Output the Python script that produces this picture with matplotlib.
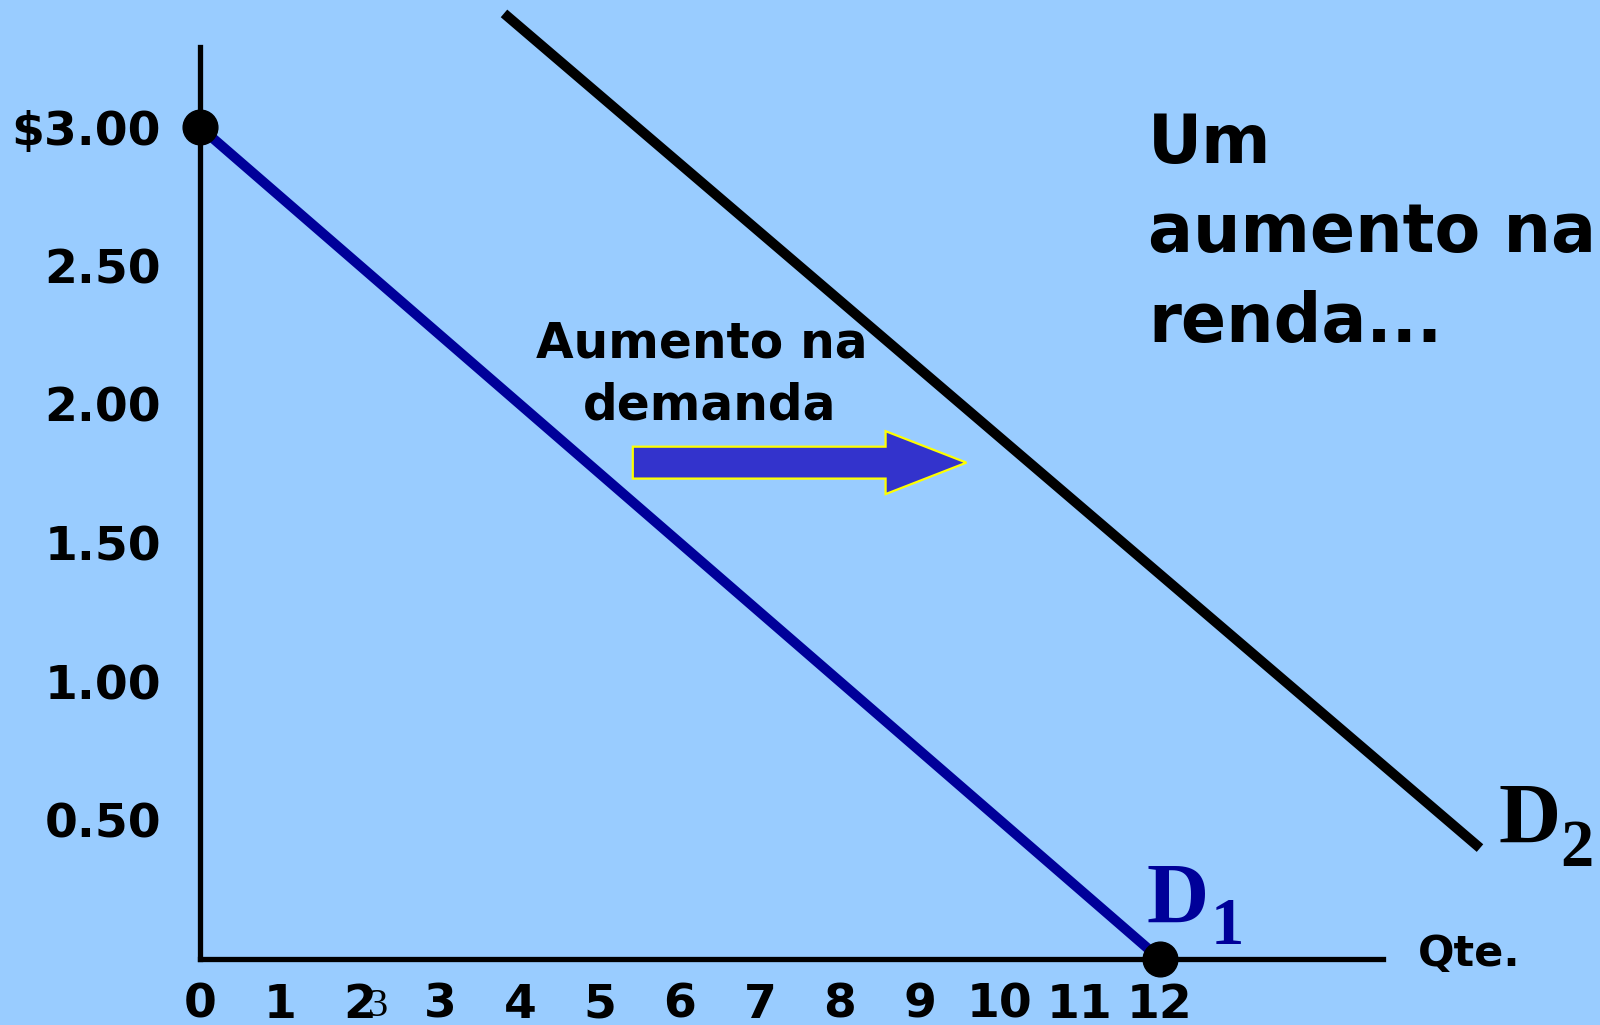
import matplotlib
matplotlib.use("Agg")
import matplotlib.pyplot as plt
from matplotlib.patches import FancyArrow

# ---- data ----
qty_ticks = [0, 1, 2, 3, 4, 5, 6, 7, 8, 9, 10, 11, 12]
qty_labels = ["0", "1", "2", "3", "4", "5", "6", "7", "8", "9", "10", "11", "12"]
price_ticks = [0.5, 1.0, 1.5, 2.0, 2.5, 3.0]
price_labels = ["0.50", "1.00", "1.50", "2.00", "2.50", "$3.00"]

d1_q = [0, 12]
d1_p = [3.0, 0.0]
d2_q = [3.8, 16.0]
d2_p = [3.41, 0.40]
dots_q = [0, 12]
dots_p = [3.0, 0.0]

BG = "#99CCFF"
W, H, DPI = 1600, 1025, 100

fig = plt.figure(figsize=(W / DPI, H / DPI), dpi=DPI, facecolor=BG)
ax = fig.add_axes([0, 0, 1, 1], facecolor=BG)

# scale: q=0 at x=200px, 80 px/unit; p=0 at y=959px, 277.3 px/unit
ax.set_xlim(-200 / 80, (W - 200) / 80)
ax.set_ylim(-(H - 959) / 277.3, 959 / 277.3)

for s in ["top", "right"]:
    ax.spines[s].set_visible(False)
ax.spines["left"].set_position(("data", 0))
ax.spines["bottom"].set_position(("data", 0))
ax.spines["left"].set_bounds(0, 3.29)
ax.spines["bottom"].set_bounds(0, 14.79)
for s in ["left", "bottom"]:
    ax.spines[s].set_linewidth(3.8)
    ax.spines[s].set_color("black")
    ax.spines[s].set_capstyle("projecting")

ax.set_xticks(qty_ticks, qty_labels)
ax.set_yticks(price_ticks, price_labels)
ax.tick_params(axis="both", length=0, labelsize=34)
ax.tick_params(axis="x", pad=17)
ax.tick_params(axis="y", pad=28)
for lab in ax.get_xticklabels() + ax.get_yticklabels():
    lab.set_fontweight("bold")
    lab.set_family("DejaVu Sans")

# demand curves
ax.plot(d2_q, d2_p, color="black", lw=7.2, solid_capstyle="butt", zorder=3)
ax.plot(d1_q, d1_p, color="#000099", lw=7.2, solid_capstyle="butt", zorder=3)
ax.plot(dots_q, dots_p, "o", color="black", ms=25, zorder=5, clip_on=False)

# shift arrow
arr = FancyArrow(5.41, 1.79, 4.17, 0, width=0.115, head_width=0.227,
                 head_length=1.01, length_includes_head=True,
                 facecolor="#3333CC", edgecolor="#FFFF00", lw=1.6, zorder=4)
ax.add_patch(arr)

def fx(px):
    return px / W

def fy(py):
    return 1 - py / H

# texts
fig.text(fx(702), fy(357), "Aumento na", ha="center", va="baseline",
         fontsize=35, fontweight="bold", family="DejaVu Sans")
fig.text(fx(710), fy(420), "demanda", ha="center", va="baseline",
         fontsize=35, fontweight="bold", family="DejaVu Sans")

for txt, by in [("Um", 163), ("aumento na", 252), ("renda...", 342)]:
    fig.text(fx(1148), fy(by), txt, ha="left", va="baseline",
             fontsize=48, fontweight="bold", family="DejaVu Sans")

fig.text(fx(1418), fy(966), "Qte.", ha="left", va="baseline",
         fontsize=31, fontweight="bold", family="DejaVu Sans")

# curve labels
fig.text(fx(1146), fy(923), "D", ha="left", va="baseline", fontsize=62,
         fontweight="bold", family="Liberation Serif", color="#000099")
fig.text(fx(1211), fy(944), "1", ha="left", va="baseline", fontsize=48,
         fontweight="bold", family="Liberation Serif", color="#000099")
fig.text(fx(1498), fy(843), "D", ha="left", va="baseline", fontsize=62,
         fontweight="bold", family="Liberation Serif", color="black")
fig.text(fx(1560), fy(866), "2", ha="left", va="baseline", fontsize=48,
         fontweight="bold", family="Liberation Serif", color="black")

# stray small "3" overlapping the "2" tick label
fig.text(fx(378), fy(1016), "3", ha="center", va="baseline", fontsize=29,
         family="Liberation Serif", color="black")

fig.savefig("out.png", dpi=DPI, facecolor=BG)
